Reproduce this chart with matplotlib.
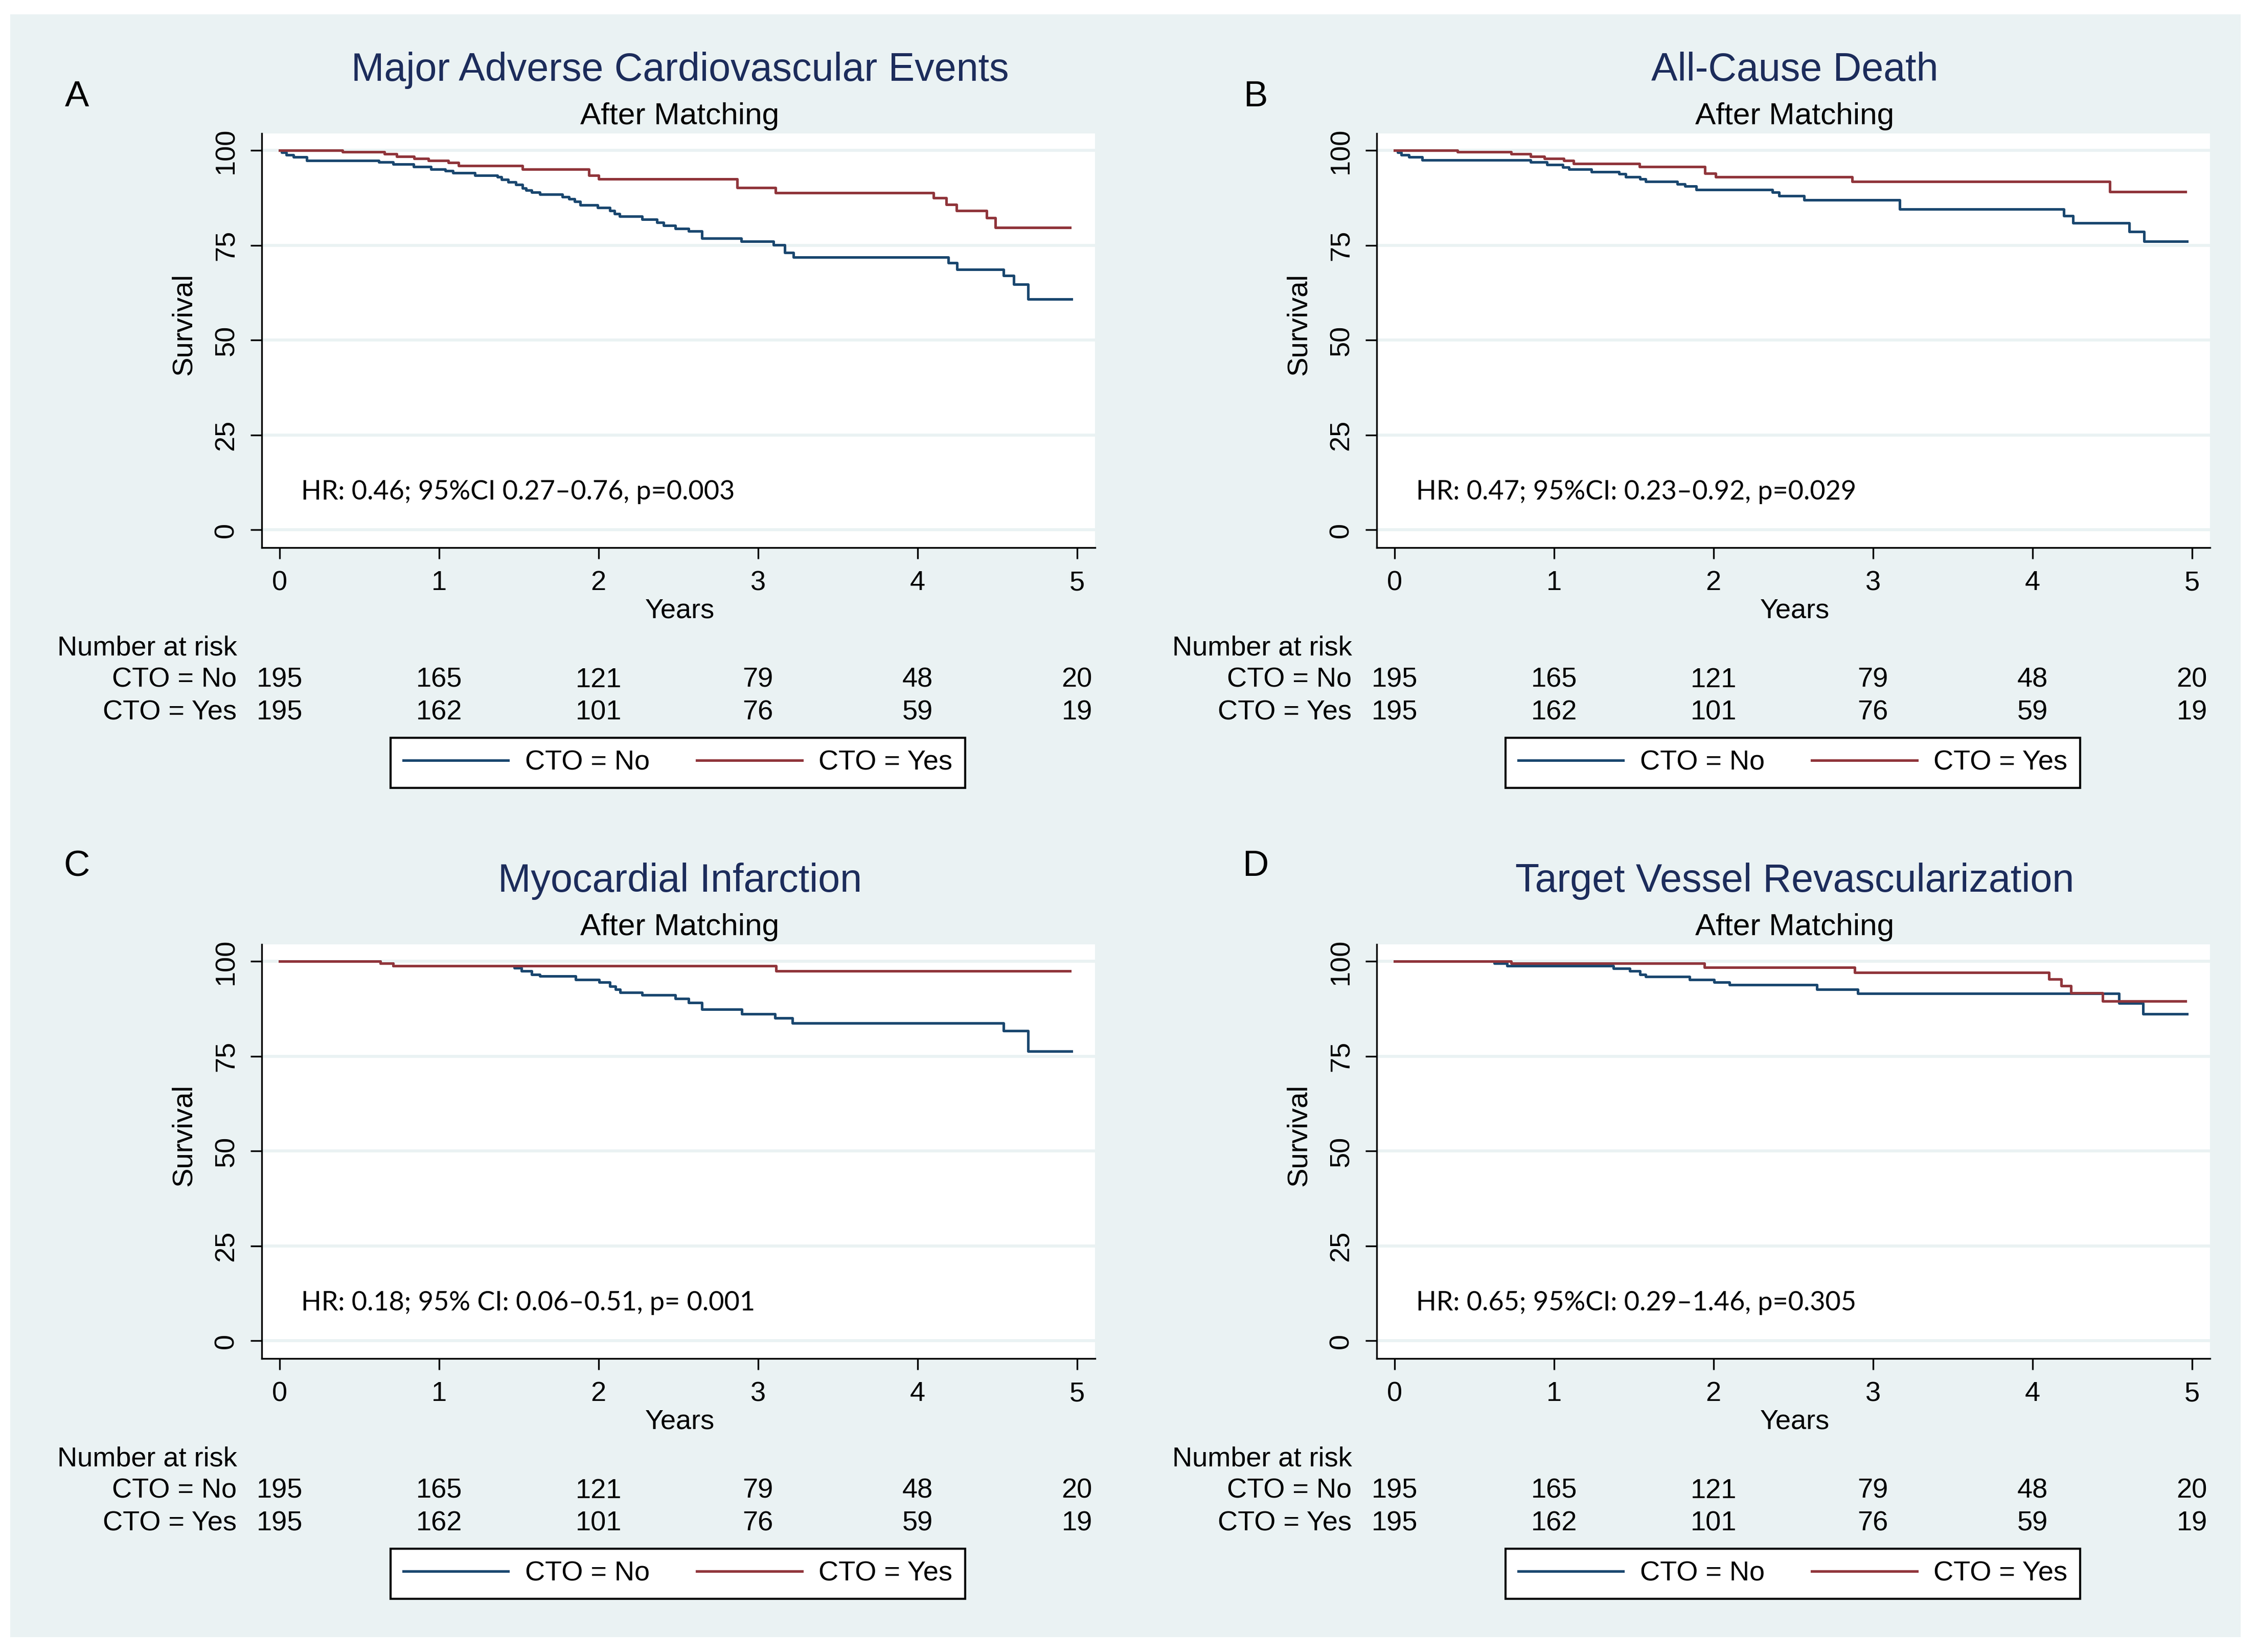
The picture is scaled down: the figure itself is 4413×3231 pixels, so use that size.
import matplotlib
matplotlib.use("Agg")
import matplotlib.pyplot as plt
import matplotlib.transforms as mtransforms
from matplotlib.lines import Line2D
from matplotlib.patches import Rectangle

plt.rcParams['font.family'] = ['Liberation Sans', 'DejaVu Sans']

# ---------------- data ----------------
titles = ["Major Adverse Cardiovascular Events", "All-Cause Death",
          "Myocardial Infarction", "Target Vessel Revascularization"]
letters = ["A", "B", "C", "D"]
hr_texts = ["HR: 0.46; 95%CI 0.27\u20130.76, p=0.003",
            "HR: 0.47; 95%CI: 0.23\u20130.92, p=0.029",
            "HR: 0.18; 95% CI: 0.06\u20130.51, p= 0.001",
            "HR: 0.65; 95%CI: 0.29\u20131.46, p=0.305"]

risk_years = [0, 1, 2, 3, 4, 5]
risk_no = [195, 165, 121, 79, 48, 20]
risk_yes = [195, 162, 101, 76, 59, 19]

# MACE
a_no_t = [0, 0.013, 0.044, 0.089, 0.172, 0.623, 0.713, 0.841, 0.949, 1.039, 1.087, 1.226, 1.365,
          1.392, 1.434, 1.482, 1.524, 1.545, 1.580, 1.631, 1.774, 1.815, 1.850, 1.885, 1.996,
          2.072, 2.099, 2.134, 2.273, 2.366, 2.408, 2.481, 2.564, 2.647, 2.896, 3.098, 3.167,
          3.222, 4.193, 4.248, 4.539, 4.602, 4.692, 4.966]
a_no_s = [100, 99.5, 98.9, 98.3, 97.4, 96.9, 96.4, 95.8, 95.1, 94.6, 94.1, 93.4, 93.0,
          92.4, 91.7, 91.0, 90.1, 89.5, 89.0, 88.4, 87.8, 87.2, 86.6, 85.7, 85.0,
          84.2, 83.4, 82.7, 81.9, 81.1, 80.3, 79.5, 78.8, 76.9, 76.0, 75.1, 73.1,
          71.9, 70.4, 68.7, 67.1, 64.7, 60.8, 60.8]
a_yes_t = [0, 0.394, 0.658, 0.734, 0.845, 0.935, 1.060, 1.122, 1.524, 1.940, 2.002, 2.869,
           3.111, 4.099, 4.179, 4.245, 4.435, 4.487, 4.955]
a_yes_s = [100, 99.6, 99.1, 98.5, 97.9, 97.4, 96.8, 96.0, 95.1, 93.5, 92.5, 90.2,
           88.9, 87.5, 85.8, 84.2, 82.2, 79.7, 79.7]

# All-cause death
b_no_t = [0, 0.021, 0.042, 0.090, 0.173, 0.853, 0.957, 1.054, 1.095, 1.234, 1.407, 1.449, 1.539,
          1.574, 1.775, 1.823, 1.892, 2.371, 2.412, 2.568, 3.168, 4.197, 4.253, 4.606, 4.700, 4.970]
b_no_s = [100, 99.5, 98.9, 98.3, 97.5, 96.9, 96.3, 95.6, 95.0, 94.4, 93.8, 93.1, 92.5,
          91.8, 91.2, 90.6, 89.7, 89.0, 88.0, 87.0, 84.6, 82.8, 80.9, 78.6, 76.0, 76.0]
b_yes_t = [0, 0.395, 0.731, 0.853, 0.939, 1.061, 1.123, 1.535, 1.948, 2.014, 2.870, 4.485, 4.960]
b_yes_s = [100, 99.6, 99.1, 98.5, 97.9, 97.3, 96.6, 95.8, 94.0, 93.0, 91.8, 89.2, 89.2]

# Myocardial infarction
c_no_t = [0, 0.634, 0.714, 1.473, 1.518, 1.581, 1.632, 1.858, 2.003, 2.073, 2.107, 2.135,
          2.274, 2.482, 2.565, 2.648, 2.898, 3.106, 3.216, 4.540, 4.693, 4.967]
c_no_s = [100, 99.5, 98.8, 98.25, 97.45, 96.6, 96.1, 95.2, 94.5, 93.4, 92.6, 91.85,
          91.1, 90.2, 89.2, 87.4, 86.2, 85.1, 83.8, 81.7, 76.3, 76.3]
c_yes_t = [0, 0.634, 0.714, 3.112, 4.956]
c_yes_s = [100, 99.5, 98.8, 97.45, 97.45]

# Target vessel revascularization
d_no_t = [0, 0.627, 0.707, 1.373, 1.477, 1.539, 1.574, 1.851, 2.003, 2.100, 2.648, 2.904,
          4.544, 4.693, 4.970]
d_no_s = [100, 99.46, 98.8, 98.1, 97.45, 96.6, 96.0, 95.2, 94.5, 93.8, 92.6, 91.5,
          89.0, 86.2, 86.2]
d_yes_t = [0, 0.731, 1.944, 2.884, 4.104, 4.180, 4.242, 4.440, 4.960]
d_yes_s = [100, 99.46, 98.4, 97.1, 95.3, 93.55, 91.7, 89.5, 89.5]

curves = [(a_no_t, a_no_s, a_yes_t, a_yes_s),
          (b_no_t, b_no_s, b_yes_t, b_yes_s),
          (c_no_t, c_no_s, c_yes_t, c_yes_s),
          (d_no_t, d_no_s, d_yes_t, d_yes_s)]

# ---------------- styling ----------------
BG = "#EAF2F3"
BLUE = "#1A476F"
RED = "#90353B"
NAVY = "#1C2C5B"

W, H = 4413, 3231
fig = plt.figure(figsize=(W / 300, H / 300), dpi=300)
fig.patch.set_facecolor("white")


def fx(px):
    return px / W


def fy(py):
    return 1 - py / H


# light bluish graph region behind all four panels
fig.patches.append(Rectangle((fx(20), fy(3202)), (4383 - 20) / W, (3202 - 28) / H,
                             transform=fig.transFigure, facecolor=BG, edgecolor="none", zorder=-10))

offsets = [(0, 0), (2181, 0), (0, 1586), (2181, 1586)]
letter_pos = [(150, 208), (2456, 208), (150, 1713), (2456, 1713)]

for i in range(4):
    ox, oy = offsets[i]
    no_t, no_s, yes_t, yes_s = curves[i]

    ax = fig.add_axes([fx(512 + ox), fy(1071 + oy), 1630 / W, 810 / H])
    ax.set_facecolor("white")
    ax.set_xlim(-0.111, 5.113)
    ax.set_ylim(-4.65, 104.5)

    for side in ["top", "right"]:
        ax.spines[side].set_visible(False)
    for side in ["left", "bottom"]:
        ax.spines[side].set_linewidth(0.8)
        ax.spines[side].set_color("black")

    ax.set_yticks([0, 25, 50, 75, 100])
    ax.set_xticks(risk_years)
    ax.tick_params(direction="out", length=5.3, width=0.8, pad=5.3, labelsize=13)
    for lab in ax.get_yticklabels():
        lab.set_rotation(90)
        lab.set_va("center")
    ax.yaxis.grid(True, color=BG, linewidth=1.4)
    ax.set_axisbelow(True)

    ax.step(no_t, no_s, where="post", color=BLUE, lw=1.2, zorder=3)
    ax.step(yes_t, yes_s, where="post", color=RED, lw=1.2, zorder=4)

    ax.set_ylabel("Survival", fontsize=13.5)
    ax.yaxis.set_label_coords(-0.0933, 0.539)
    ax.set_xlabel("Years", fontsize=13)
    ax.xaxis.set_label_coords(0.502, -0.153)
    ax.xaxis.label.set_va("center")
    ax.yaxis.label.set_va("center")

    ax.text(0.136, 10.0, hr_texts[i], fontsize=12.5, va="center", ha="left",
            family=["Lato", "DejaVu Sans"])

    # titles
    fig.text(fx(1330 + ox), fy(158 + oy), titles[i], fontsize=18.5, color=NAVY,
             ha="center", va="baseline")
    fig.text(fx(1330 + ox), fy(243 + oy), "After Matching", fontsize=14.5,
             ha="center", va="baseline")
    lx, ly = letter_pos[i]
    fig.text(fx(lx), fy(ly), letters[i], fontsize=17, ha="center", va="baseline")

    # number at risk table
    fig.text(fx(112 + ox), fy(1268 + oy), "Number at risk", fontsize=13, ha="left", va="center")
    fig.text(fx(463 + ox), fy(1330 + oy), "CTO = No", fontsize=13, ha="right", va="center")
    fig.text(fx(463 + ox), fy(1393 + oy), "CTO = Yes", fontsize=13, ha="right", va="center")
    trans = mtransforms.blended_transform_factory(ax.transData, fig.transFigure)
    for yr, n_no, n_yes in zip(risk_years, risk_no, risk_yes):
        ax.text(yr, fy(1330 + oy), str(n_no), transform=trans, fontsize=13,
                ha="center", va="center", clip_on=False)
        ax.text(yr, fy(1393 + oy), str(n_yes), transform=trans, fontsize=13,
                ha="center", va="center", clip_on=False)

    handles = [Line2D([], [], color=BLUE, lw=1.2), Line2D([], [], color=RED, lw=1.2)]
    leg = ax.legend(handles, ["CTO = No", "CTO = Yes"], loc="center",
                    bbox_to_anchor=(fx(1326 + ox), fy(1492 + oy)), bbox_transform=fig.transFigure,
                    ncol=2, fancybox=False, edgecolor="black", framealpha=1, fontsize=13,
                    handlelength=3.8, handletextpad=0.6, columnspacing=1.7, borderpad=0.45)
    leg.get_frame().set_linewidth(1.0)

fig.savefig("out.png", dpi=300)
